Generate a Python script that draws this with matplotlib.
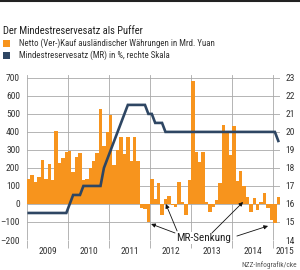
import numpy as np
import matplotlib
matplotlib.use("Agg")
import matplotlib.pyplot as plt
from matplotlib import font_manager
from matplotlib.patches import Rectangle
from matplotlib.lines import Line2D

# Netto (Ver-)Kauf ausländischer Währungen, Mrd. Yuan, monatlich Jan 2009 - Feb 2015
net_2009 = [141, 160, 122, 152, 244, 137, 221, 133, 407, 227, 253, 290]
net_2010 = [295, 180, 263, 283, 133, 140, 200, 240, 285, 525, 320, 400]
net_2011 = [495, 215, 300, 370, 280, 370, 240, 370, 240, -25, -28, -100]
net_2012 = [137, 25, 115, -61, 26, 44, -6, -15, 124, 13, -60, 133]
net_2013 = [684, 290, 235, 290, 10, -43, -15, 22, 118, 440, 400, 272]
net_2014 = [435, 128, 185, 100, 40, -43, 31, -33, 10, 60, -20, -90]
net_2015 = [-107, 41]

# Mindestreservesatz in %
mr_2009 = [15.5, 15.5, 15.5, 15.5, 15.5, 15.5, 15.5, 15.5, 15.5, 15.5, 15.5, 15.5]
mr_2010 = [16.0, 16.5, 16.5, 16.5, 17.0, 17.0, 17.0, 17.0, 17.0, 17.0, 18.0, 18.5]
mr_2011 = [19.0, 19.5, 20.0, 20.5, 21.0, 21.5, 21.5, 21.5, 21.5, 21.5, 21.5, 21.0]
mr_2012 = [21.0, 20.5, 20.5, 20.5, 20.0, 20.0, 20.0, 20.0, 20.0, 20.0, 20.0, 20.0]
mr_2013 = [20.0, 20.0, 20.0, 20.0, 20.0, 20.0, 20.0, 20.0, 20.0, 20.0, 20.0, 20.0]
mr_2014 = [20.0, 20.0, 20.0, 20.0, 20.0, 20.0, 20.0, 20.0, 20.0, 20.0, 20.0, 20.0]
mr_2015 = [20.0, 19.5]

years = ["2009", "2010", "2011", "2012", "2013", "2014", "2015"]
left_ticks = [700, 600, 500, 400, 300, 200, 100, 0, -100, -200]
right_ticks = [23, 22, 21, 20, 19, 18, 17, 16, 15, 14]

ORANGE = "#f7941d"
BLUE = "#2e4663"
GRID = "#a8a8a8"

# schmale Schrift suchen
names = {f.name for f in font_manager.fontManager.ttflist}
FONT = "DejaVu Sans"
for fam in ["Liberation Sans Narrow", "Roboto Condensed", "Open Sans Condensed", "Liberation Sans"]:
    if fam in names:
        FONT = fam
        break
plt.rcParams["font.family"] = [FONT, "DejaVu Sans"]

net = np.array(net_2009 + net_2010 + net_2011 + net_2012 + net_2013 + net_2014 + net_2015)
mr = np.array(mr_2009 + mr_2010 + mr_2011 + mr_2012 + mr_2013 + mr_2014 + mr_2015)
x = np.arange(len(net))

fig = plt.figure(figsize=(3.0, 2.7), dpi=100)
ax = fig.add_axes([27 / 300, 30 / 270, 253 / 300, 165 / 270])
ax.set_xlim(-0.5, len(net) - 0.5)
ax.set_ylim(-200, 716)

# Gitter
for v in left_ticks:
    ax.axhline(v, color=GRID, lw=0.6, zorder=0)
for k in range(7):
    ax.axvline(-0.5 + 12 * k, color=GRID, lw=0.6, zorder=0)

ax.bar(x, net, width=1.0, color=ORANGE, linewidth=0, zorder=2)

ax2 = ax.twinx()
ax2.set_ylim(14, 14 + 9.16)
ax2.plot(x, mr, color=BLUE, lw=1.9, zorder=3, solid_joinstyle="miter")

for a in (ax, ax2):
    for s in a.spines.values():
        s.set_visible(False)

ax.set_yticks(left_ticks)
ax.set_yticklabels([str(v).replace("-", "\u2013") for v in left_ticks])
ax.tick_params(axis="y", length=0, pad=5, labelsize=6.8, labelcolor="#333333")
ax2.set_yticks(right_ticks)
ax2.tick_params(axis="y", length=0, pad=4, labelsize=6.8, labelcolor="#333333")

ax.set_xticks([-0.5 + 12 * k for k in range(7)])
ax.set_xticklabels([])
ax.tick_params(axis="x", length=6, width=0.6, color=GRID)

for k, yr in enumerate(years):
    ax.text(5.5 + 12 * k if k < 6 else 75, -265, yr, ha="center", va="center",
            fontsize=6.8, color="#333333", clip_on=False)

# MR-Senkung
ax.text(51, -188, "MR-Senkung", ha="center", va="center", fontsize=8, color="#222222",
        bbox=dict(facecolor="white", edgecolor="none", pad=0.6), zorder=5)
arrows = [((42.8, -161), (35.8, -111)),
          ((43.4, -150), (40.1, 0)),
          ((53.6, -161), (62.7, 11)),
          ((60.9, -178), (70.0, -122))]
for start, end in arrows:
    ax.annotate("", xy=end, xytext=start, zorder=6,
                arrowprops=dict(arrowstyle="-|>", color="#111111", lw=0.6,
                                mutation_scale=6, shrinkA=0, shrinkB=0))

# Kopf
fig.add_artist(Line2D([0, 1], [0.997, 0.997], transform=fig.transFigure, color="#222222", lw=1.5))
fig.text(3 / 300, 1 - 31.5 / 270, "Der Mindestreservesatz als Puffer", fontsize=7.6,
         color="#222222", va="center", ha="left")
fig.add_artist(Rectangle((3 / 300, 1 - 47 / 270), 7 / 300, 7 / 270, transform=fig.transFigure,
                         facecolor=ORANGE, edgecolor="none"))
fig.text(19 / 300, 1 - 43.5 / 270, "Netto (Ver-)Kauf ausländischer Währungen in Mrd. Yuan",
         fontsize=6.4, color="#333333", va="center", ha="left")
fig.add_artist(Rectangle((3 / 300, 1 - 59 / 270), 7 / 300, 7 / 270, transform=fig.transFigure,
                         facecolor=BLUE, edgecolor="none"))
fig.text(19 / 300, 1 - 55.5 / 270, "Mindestreservesatz (MR) in %, rechte Skala",
         fontsize=6.4, color="#333333", va="center", ha="left")

fig.text(297 / 300, 1 - 265 / 270, "NZZ-Infografik/cke", fontsize=5.3, color="#555555",
         va="center", ha="right")

fig.savefig("out.png", dpi=100)
